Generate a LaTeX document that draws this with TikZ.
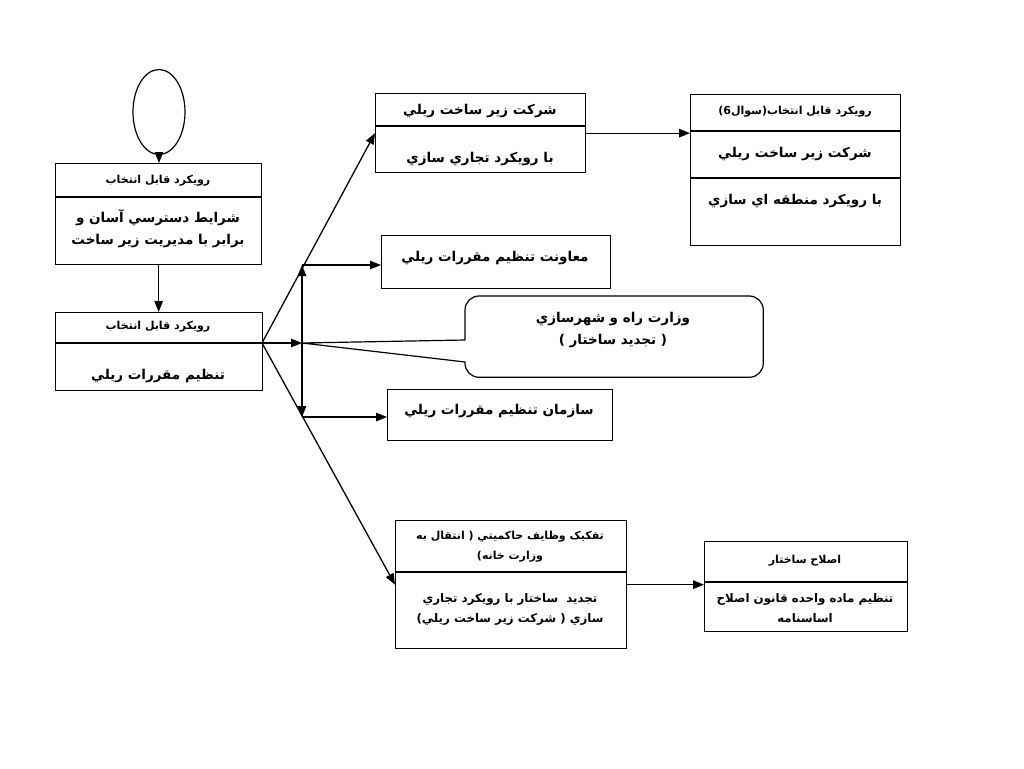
\documentclass[tikz,border=0pt]{standalone}
\usepackage{fontspec}
\newfontfamily\arabicfont[Script=Arabic]{DejaVu Sans}
\TeXXeTstate=1
\usetikzlibrary{shapes.geometric, arrows.meta}

\newcommand{\rtl}[1]{\beginR #1\endR}

\begin{document}
\begin{tikzpicture}[x=1pt, y=-1pt, >={Triangle[length=11pt,width=8.5pt]},
    pane/.style={draw, line width=1.3pt, inner sep=0pt, anchor=north west},
    rule/.style={line width=1.3pt},
    head/.style={font=\arabicfont\bfseries\fontsize{11}{20}\selectfont, align=center, inner sep=0pt},
    note/.style={font=\arabicfont\bfseries\fontsize{11.8}{20}\selectfont, align=center, inner sep=0pt},
    body/.style={font=\arabicfont\bfseries\fontsize{13.5}{22}\selectfont, align=center, inner sep=0pt},
    link/.style={->, line width=1.3pt}]
    \useasboundingbox (0,0) rectangle (1024,768);

    % start and the two chosen approaches - left column
    \node[draw, ellipse, line width=1.2pt, minimum width=52, minimum height=85, inner sep=0pt] (start) at (159,112) {};

    \node[pane, minimum width=206, minimum height=101] (pickA) at (55,163) {};
    \draw[rule] (55,197) -- (261,197);
    \node[head] (pickAhead) at (158,181) {\rtl{رويکرد قابل انتخاب}};
    \node[body] (pickAbody) at (158,229) {\rtl{شرايط دسترسي آسان و}\\\rtl{برابر با مديريت زير ساخت}};

    \node[pane, minimum width=207, minimum height=78] (pickB) at (55,312) {};
    \draw[rule] (55,343) -- (262,343);
    \node[head] (pickBhead) at (158,327) {\rtl{رويکرد قابل انتخاب}};
    \node[body] (pickBbody) at (158,376) {\rtl{تنظيم مقررات ريلي}};

    % company - top
    \node[pane, minimum width=210, minimum height=79] (company) at (375,93) {};
    \draw[rule] (375,126) -- (585,126);
    \node[body] (companyhead) at (480,111) {\rtl{شرکت زير ساخت ريلي}};
    \node[body] (companybody) at (480,159) {\rtl{با رويکرد تجاري سازي}};

    \node[pane, minimum width=210, minimum height=151] (choice) at (690,94) {};
    \draw[rule] (690,131) -- (900,131);
    \draw[rule] (690,178) -- (900,178);
    \node[head] (choicehead) at (795,112) {\rtl{رويکرد قابل انتخاب(سوال6)}};
    \node[body] (choicemid) at (795,154) {\rtl{شرکت زير ساخت ريلي}};
    \node[body] (choicebody) at (795,201) {\rtl{با رويکرد منطقه اي سازي}};

    % regulators - middle
    \node[pane, minimum width=229, minimum height=53] (deputy) at (381,235) {};
    \node[body] (deputytext) at (495,258) {\rtl{معاونت تنظيم مقررات ريلي}};

    \node[pane, draw=none, minimum width=297, minimum height=80] (ministry) at (465,296) {};
    \node[body] (ministrytext) at (613,330) {\rtl{وزارت راه و شهرسازي}\\\rtl{( تجديد ساختار )}};

    \node[pane, minimum width=225, minimum height=51] (agency) at (387,389) {};
    \node[body] (agencytext) at (499,411) {\rtl{سازمان تنظيم مقررات ريلي}};

    % separation and reform - bottom
    \node[pane, minimum width=231, minimum height=128] (split) at (395,520) {};
    \draw[rule] (395,572) -- (626,572);
    \node[head] (splithead) at (510,547) {\rtl{تفکيک وظايف حاکميتي ( انتقال به}\\\rtl{وزارت خانه)}};
    \node[note] (splitbody) at (510,609) {\rtl{تجديد\ \ ساختار با رويکرد تجاري}\\\rtl{سازي ( شرکت زير ساخت ريلي)}};

    \node[pane, minimum width=203, minimum height=90] (reform) at (704,541) {};
    \draw[rule] (704,582) -- (907,582);
    \node[head] (reformhead) at (805,561) {\rtl{اصلاح ساختار}};
    \node[note] (reformbody) at (805,608) {\rtl{تنظيم ماده واحده قانون اصلاح}\\\rtl{اساسنامه}};

    % branch points
    \coordinate (fork) at (262,343);
    \coordinate (hub) at (302,343);
    \coordinate (hubup) at (302,265);
    \coordinate (hubdown) at (302,417);

    % callout outline pointing at the hub
    \draw[line width=1.2pt] (465,340) -- (hub) -- (465,362)
        [rounded corners=14pt] -- (ministry.south west) -- (ministry.south east)
        -- (ministry.north east) -- (ministry.north west) -- (465,340);

    % connectors
    \draw[link] (start.south) -- (start.south |- pickA.north);
    \draw[link] (pickA.south) -- (pickA.south |- pickB.north);
    \draw[link] (fork) -- (company.west);
    \draw[link] (fork) -- (split.west);
    \draw[link] (fork) -- (hub);
    \draw[link] (hub) -- (hubup);
    \draw[link] (hub) -- (hubdown);
    \draw[link] (hubup) -- (hubup -| deputy.west);
    \draw[link] (hubdown) -- (hubdown -| agency.west);
    \draw[link] (company.east) -- (company.east -| choice.west);
    \draw[link] (split.east) -- (split.east -| reform.west);
\end{tikzpicture}
\end{document}
